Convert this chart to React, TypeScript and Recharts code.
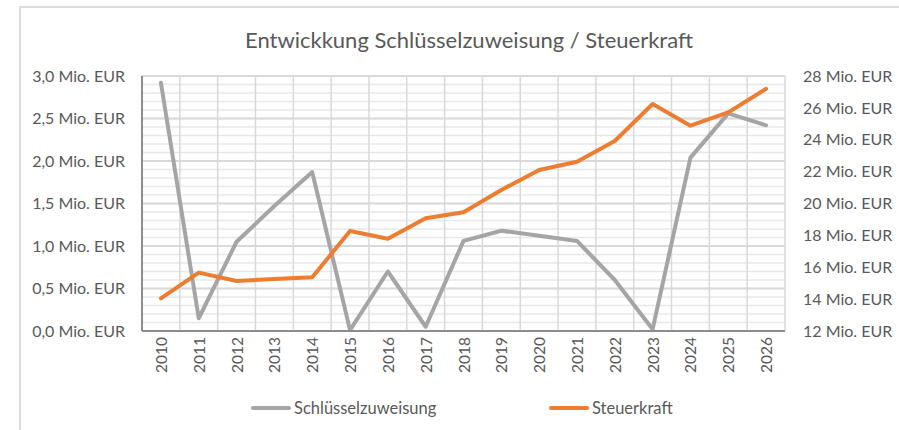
import React from "react";
import { LineChart, Line, XAxis, YAxis, CartesianGrid, Legend } from "recharts";

const years = ["2010","2011","2012","2013","2014","2015","2016","2017","2018","2019","2020","2021","2022","2023","2024","2025","2026"];
const schluessel = [2.92, 0.15, 1.05, 1.47, 1.87, 0.01, 0.70, 0.05, 1.06, 1.18, 1.12, 1.06, 0.60, 0.02, 2.04, 2.56, 2.42];
const steuerkraft = [14.05, 15.66, 15.14, 15.26, 15.37, 18.27, 17.79, 19.07, 19.45, 20.85, 22.1, 22.62, 23.92, 26.24, 24.88, 25.72, 27.2];
const leftTicks = [0, 0.5, 1, 1.5, 2, 2.5, 3];
const minorTicks = [0, 0.1, 0.2, 0.3, 0.4, 0.5, 0.6, 0.7, 0.8, 0.9, 1, 1.1, 1.2, 1.3, 1.4, 1.5, 1.6, 1.7, 1.8, 1.9, 2, 2.1, 2.2, 2.3, 2.4, 2.5, 2.6, 2.7, 2.8, 2.9, 3];
const rightTicks = [12, 14, 16, 18, 20, 22, 24, 26, 28];
const seriesNames = ["Schlüsselzuweisung", "Steuerkraft"];
const seriesColors = ["#a5a5a5", "#ed7d31"];
const leftDomain = [0, 3];

const data = years.map((y, i) => ({ idx: i, year: y, s: schluessel[i], k: steuerkraft[i] }));
const xTicks = years.map((_, i) => i);
const xBoundaries = [...years.map((_, i) => i - 0.5), years.length - 0.5];

const FONT = "Lato, 'Open Sans', sans-serif";
const TEXT = "#595959";

const minorGen = (args: any) => {
  const { yAxis, offset } = args || {};
  const sc = yAxis && yAxis.scale;
  if (sc && typeof sc === "function") {
    return minorTicks.map((t) => sc(t));
  }
  if (sc && typeof sc.map === "function") {
    return minorTicks.map((t) => sc.map(t));
  }
  const top = offset.top;
  const h = offset.height;
  return minorTicks.map((t) => top + h * (1 - (t - leftDomain[0]) / (leftDomain[1] - leftDomain[0])));
};

const XTick = (props: any) => {
  const { x, y, payload } = props;
  return (
    <text
      x={0}
      y={0}
      transform={`translate(${x},${y}) rotate(-90)`}
      textAnchor="end"
      dominantBaseline="central"
      fill={TEXT}
      fontSize={15.5}
      fontFamily={FONT}
    >
      {years[payload.value]}
    </text>
  );
};

const LegendContent = () => (
  <div style={{ position: "relative", width: 899, height: 24, fontFamily: FONT, fontSize: 16.5, color: TEXT }}>
    {seriesNames.map((n, i) => (
      <div
        key={n}
        style={{ position: "absolute", left: i === 0 ? 251 : 549, top: 0, height: 24, display: "flex", alignItems: "center" }}
      >
        <span style={{ display: "inline-block", width: 40, height: 4, borderRadius: 2, background: seriesColors[i], marginRight: 3 }} />
        <span>{n}</span>
      </div>
    ))}
  </div>
);

export default function App() {
  return (
    <div style={{ position: "absolute", left: 0, top: 0, width: 899, height: 430, background: "#fff", overflow: "hidden" }}>
      <div
        style={{
          position: "absolute",
          left: 19,
          top: 6,
          width: 900,
          height: 440,
          border: "2px solid #dcdcdc",
          boxSizing: "border-box",
        }}
      />
      <div
        style={{
          position: "absolute",
          left: 0,
          top: 26,
          width: 938,
          textAlign: "center",
          fontFamily: FONT,
          fontSize: 22,
          color: TEXT,
          lineHeight: "28px",
        }}
      >
        Entwickkung Schlüsselzuweisung / Steuerkraft
      </div>
      <div style={{ position: "absolute", left: 0, top: 0 }}>
        <LineChart width={899} height={430} data={data} margin={{ top: 76, right: 0, bottom: 0, left: 0 }}>
          <XAxis xAxisId="grid" dataKey="idx" type="number" domain={[-0.5, 16.5]} ticks={xBoundaries} hide />
          <CartesianGrid
            xAxisId="grid"
            yAxisId="left"
            vertical={false}
            horizontalCoordinatesGenerator={minorGen}
            stroke="#e8e8e8"
            strokeWidth={1.5}
          />
          <CartesianGrid xAxisId="grid" yAxisId="left" horizontal={false} stroke="#d9d9d9" strokeWidth={1.5} />
          <CartesianGrid xAxisId="grid" yAxisId="left" vertical={false} stroke="#d9d9d9" strokeWidth={2} />
          <XAxis
            dataKey="idx"
            type="number"
            domain={[-0.5, 16.5]}
            ticks={xTicks}
            interval={0}
            tick={<XTick />}
            tickLine={false}
            tickSize={6}
            tickMargin={0}
            height={75}
            axisLine={{ stroke: "#8c8c8c", strokeWidth: 2 }}
          />
          <YAxis
            yAxisId="left"
            type="number"
            domain={leftDomain}
            ticks={leftTicks}
            width={142}
            tickLine={false}
            tickMargin={11}
            axisLine={{ stroke: "#8c8c8c", strokeWidth: 2 }}
            tick={{ fill: TEXT, fontSize: 16, fontFamily: FONT }}
            tickFormatter={(v: number) => `${v.toFixed(1).replace(".", ",")} Mio. EUR`}
          />
          <YAxis
            yAxisId="right"
            orientation="right"
            type="number"
            domain={[12, 28]}
            ticks={rightTicks}
            width={114}
            tickLine={false}
            tickMargin={12}
            axisLine={false}
            tick={{ fill: TEXT, fontSize: 16, fontFamily: FONT, textAnchor: "start" }}
            tickFormatter={(v: number) => `${v} Mio. EUR`}
          />
          <Legend
            verticalAlign="bottom"
            content={<LegendContent />}
            wrapperStyle={{ position: "absolute", left: 0, top: 396, width: 899, height: 24 }}
          />
          <Line
            yAxisId="left"
            dataKey="s"
            name={seriesNames[0]}
            stroke={seriesColors[0]}
            strokeWidth={4}
            dot={false}
            activeDot={false}
            strokeLinejoin="round"
            strokeLinecap="round"
            isAnimationActive={false}
          />
          <Line
            yAxisId="right"
            dataKey="k"
            name={seriesNames[1]}
            stroke={seriesColors[1]}
            strokeWidth={4}
            dot={false}
            activeDot={false}
            strokeLinejoin="round"
            strokeLinecap="round"
            isAnimationActive={false}
          />
        </LineChart>
      </div>
    </div>
  );
}
